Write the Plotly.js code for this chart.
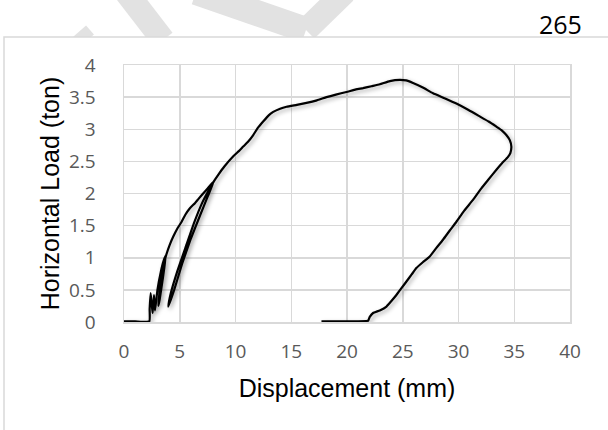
<!DOCTYPE html>
<html>
<head>
<meta charset="utf-8">
<script src="https://cdn.plot.ly/plotly-3.0.1.min.js"></script>
<style>
  html, body { margin: 0; padding: 0; background: #ffffff; }
  #chart { width: 608px; height: 430px; }
  .js-line { filter: drop-shadow(2px 2px 2px rgba(0,0,0,0.35)); }
</style>
</head>
<body>
<div id="chart"></div>
<script>
// ---- data ----
const displacement = [
  0.0, 1.0, 2.27, 2.3, 2.39, 2.5, 2.57, 2.69, 2.78, 3.0, 3.3, 3.55, 3.76,
  3.5, 3.2, 3.08, 3.2, 3.5, 3.8, 4.1, 4.42, 4.8, 5.17, 5.5, 5.91, 6.36, 6.7,
  7.1, 7.5, 8.06,
  7.5, 6.8, 6.0, 5.2, 4.5, 3.97,
  4.2, 4.8, 5.5, 6.3, 7.0, 7.6, 8.1, 8.45, 9.0, 9.8, 10.3, 10.69, 11.1, 11.59,
  12.0, 12.48, 13.0, 13.38, 14.0, 14.58, 15.5, 16.37, 17.3, 18.16, 19.0, 19.95,
  20.8, 21.44, 22.2, 22.94, 23.84, 24.73, 25.3, 25.92, 26.8, 27.72, 28.8, 29.81,
  30.9, 31.9, 32.7, 33.4, 33.9, 34.29, 34.6, 34.74, 34.65, 34.44, 33.9, 33.4,
  32.65, 32.05, 31.3, 30.5, 29.81, 29.2, 28.61, 28.0, 27.42, 26.8, 26.22, 25.8,
  25.33, 24.9, 24.43, 24.0, 23.54, 22.94, 22.34, 22.04, 21.89, 20.0, 17.71
];
const load = [
  0.01, 0.01, 0.01, 0.2, 0.45, 0.25, 0.14, 0.42, 0.18, 0.5, 0.78, 0.95, 1.04,
  0.7, 0.35, 0.25, 0.5, 0.85, 1.05, 1.2, 1.33, 1.46, 1.56, 1.67, 1.77, 1.85, 1.92,
  2.0, 2.08, 2.19,
  1.95, 1.65, 1.3, 0.9, 0.5, 0.24,
  0.45, 0.8, 1.15, 1.55, 1.85, 2.05, 2.2, 2.29, 2.42, 2.58, 2.66, 2.73, 2.8, 2.91,
  3.02, 3.12, 3.22, 3.27, 3.32, 3.35, 3.38, 3.41, 3.45, 3.5, 3.54, 3.58,
  3.62, 3.64, 3.67, 3.7, 3.75, 3.77, 3.76, 3.72, 3.65, 3.56, 3.48, 3.40,
  3.3, 3.2, 3.12, 3.04, 2.98, 2.91, 2.83, 2.73, 2.63, 2.57, 2.47, 2.37,
  2.21, 2.08, 1.90, 1.73, 1.56, 1.42, 1.28, 1.15, 1.02, 0.93, 0.84, 0.74,
  0.63, 0.53, 0.42, 0.33, 0.24, 0.18, 0.14, 0.08, 0.02, 0.01, 0.01
];
const xTickVals = [0, 5, 10, 15, 20, 25, 30, 35, 40];
const xTickText = ["0", "5", "10", "15", "20", "25", "30", "35", "40"];
const yTickVals = [0, 0.5, 1, 1.5, 2, 2.5, 3, 3.5, 4];
const yTickText = ["0", "0.5", "1", "1.5", "2", "2.5", "3", "3.5", "4"];
const xTitle = "Displacement (mm)";
const yTitle = "Horizontal Load (ton)";
const pageNumber = "265";

// ---- layout helpers (pixel -> paper) ----
const M = { l: 124, r: 38, t: 65, b: 108 };
const W = 608, H = 430;
const pw = W - M.l - M.r, ph = H - M.t - M.b;
const px = x => (x - M.l) / pw;
const py = y => (H - M.b - y) / ph;

const wm = '#e2e2e2';
const shapes = [
  { type: 'line', xref: 'paper', yref: 'paper', layer: 'below', x0: px(126), y0: py(-8), x1: px(163), y1: py(40), line: { color: wm, width: 24 } },
  { type: 'line', xref: 'paper', yref: 'paper', layer: 'below', x0: px(196), y0: py(-8), x1: px(306), y1: py(30), line: { color: wm, width: 26 } },
  { type: 'line', xref: 'paper', yref: 'paper', layer: 'below', x0: px(306), y0: py(30), x1: px(345), y1: py(-8), line: { color: wm, width: 24 } },
  { type: 'line', xref: 'paper', yref: 'paper', layer: 'below', x0: px(74), y0: py(44), x1: px(90), y1: py(30), line: { color: wm, width: 12 } },
  { type: 'rect', xref: 'paper', yref: 'paper', layer: 'below', x0: px(4), y0: py(37), x1: px(640), y1: py(470), fillcolor: '#ffffff', line: { color: '#d9d9d9', width: 1.5 } }
];

const trace = {
  x: displacement, y: load, type: 'scatter', mode: 'lines',
  line: { color: '#000000', width: 2.2, shape: 'spline', smoothing: 0.4 },
  hoverinfo: 'skip', showlegend: false
};

const tickFont = { family: 'Open Sans, sans-serif', size: 19, color: '#595959' };
const titleFont = { family: 'Liberation Sans, Arial, sans-serif', size: 25, color: '#000000' };

const layout = {
  width: W, height: H,
  margin: M,
  paper_bgcolor: '#ffffff', plot_bgcolor: '#ffffff',
  showlegend: false,
  xaxis: {
    range: [0, 40], tickmode: 'array', tickvals: xTickVals, ticktext: xTickText,
    showgrid: true, gridcolor: '#d9d9d9', gridwidth: 1.5,
    zeroline: false, showline: true, mirror: true, linecolor: '#d9d9d9', linewidth: 1.5,
    ticks: '', tickfont: tickFont, ticklabelstandoff: 12,
    title: { text: xTitle, font: titleFont, standoff: 16 }
  },
  yaxis: {
    range: [0, 4], tickmode: 'array', tickvals: yTickVals, ticktext: yTickText,
    showgrid: true, gridcolor: '#d9d9d9', gridwidth: 1.5,
    zeroline: false, showline: true, mirror: true, linecolor: '#d9d9d9', linewidth: 1.5,
    ticks: '', tickfont: tickFont, ticklabelstandoff: 23,
    title: { text: yTitle, font: titleFont, standoff: 2 }
  },
  shapes: shapes,
  annotations: [
    { text: pageNumber, xref: 'paper', yref: 'paper', x: px(584), y: py(24), xanchor: 'right', yanchor: 'middle',
      showarrow: false, font: { family: 'Open Sans, sans-serif', size: 25, color: '#000000' } }
  ]
};

Plotly.newPlot('chart', [trace], layout, { staticPlot: true, displayModeBar: false });
</script>
</body>
</html>
